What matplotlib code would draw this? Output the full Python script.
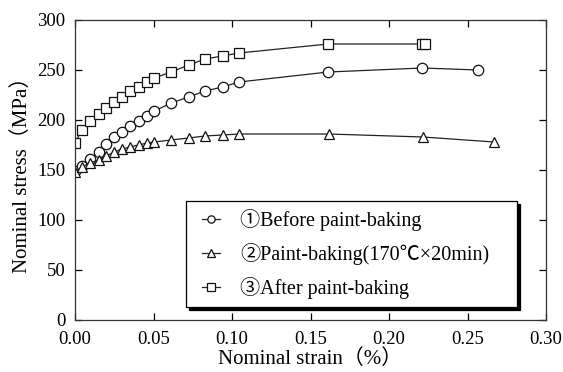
import matplotlib
matplotlib.use("Agg")
import matplotlib.pyplot as plt
from matplotlib.legend_handler import HandlerLine2D

strain_before = [0.0, 0.0046, 0.0093, 0.015, 0.020, 0.025, 0.030, 0.035, 0.0405, 0.0458, 0.0506,
                 0.0612, 0.0724, 0.0828, 0.094, 0.1045, 0.1613, 0.2213, 0.2567]
stress_before = [149, 154, 161, 168, 176, 183, 188, 194, 199, 204, 209,
                 217, 223, 229, 233, 238, 248, 252, 250]

strain_paint = [0.0, 0.0046, 0.0093, 0.015, 0.020, 0.025, 0.030, 0.035, 0.0405, 0.0458, 0.0506,
                0.0612, 0.0724, 0.0828, 0.094, 0.1045, 0.1615, 0.2216, 0.267]
stress_paint = [148, 153, 157, 160, 164, 168, 171, 173, 175, 177, 178,
                180, 182, 184, 185, 186, 186, 183, 178]

strain_after = [0.0, 0.0044, 0.0093, 0.015, 0.020, 0.025, 0.030, 0.035, 0.0405, 0.0458, 0.0506,
                0.0612, 0.0724, 0.0828, 0.094, 0.1045, 0.1613, 0.221, 0.223]
stress_after = [177, 190, 199, 206, 212, 218, 223, 229, 233, 238, 242,
                248, 255, 261, 264, 267, 276, 276, 276]

labels = ["①Before paint-baking", "②Paint-baking(170℃×20min)", "③After paint-baking"]
xticks = [0.00, 0.05, 0.10, 0.15, 0.20, 0.25, 0.30]
yticks = [0, 50, 100, 150, 200, 250, 300]

FAM = ['Liberation Serif', 'Noto Sans CJK JP', 'DejaVu Serif']
plt.rcParams['font.family'] = FAM
plt.rcParams['font.size'] = 13.5

fig = plt.figure(figsize=(5.63, 3.72), dpi=100)
ax = fig.add_axes([75/563, 52/372, 471/563, 300/372])

lc = '#222222'
kw = dict(color=lc, linewidth=0.9, markersize=7.5, markerfacecolor='white',
          markeredgecolor='#111111', markeredgewidth=0.9)
l1, = ax.plot(strain_before, stress_before, marker='o', label=labels[0], **kw)
l2, = ax.plot(strain_paint, stress_paint, marker='^', label=labels[1], **kw)
l3, = ax.plot(strain_after, stress_after, marker='s', label=labels[2], **kw)

ax.set_xlim(0, 0.30)
ax.set_ylim(0, 300)
ax.set_xticks(xticks)
ax.set_yticks(yticks)
ax.set_xticklabels([f"{v:.2f}" for v in xticks])
ax.set_yticklabels([str(v) for v in yticks])
ax.tick_params(direction='in', top=True, right=True, length=5, width=0.9, labelsize=13.5)
ax.tick_params(axis='x', pad=8)
ax.tick_params(axis='y', pad=7)
for s in ax.spines.values():
    s.set_linewidth(0.9)
    s.set_color('#333333')

ax.set_xlabel("Nominal strain（%）", fontsize=15, labelpad=1)
ax.set_ylabel("Nominal stress（MPa）", fontsize=15, labelpad=4)

hmap = {l: HandlerLine2D(xpad=0.4) for l in (l1, l2, l3)}
leg = ax.legend(handler_map=hmap, loc='upper left',
                bbox_to_anchor=(186/563, (372-305)/372, 331/563, 104/372),
                bbox_transform=fig.transFigure, mode='expand', borderaxespad=0,
                frameon=True, fancybox=False, shadow={'color': 'black', 'alpha': 1},
                edgecolor='black', framealpha=1, fontsize=14.5, markerscale=0.7,
                handlelength=1.3, handletextpad=1.0, labelspacing=0.6,
                borderpad=0.4)
leg.get_frame().set_linewidth(0.9)

fig.savefig("out.png", dpi=100)
